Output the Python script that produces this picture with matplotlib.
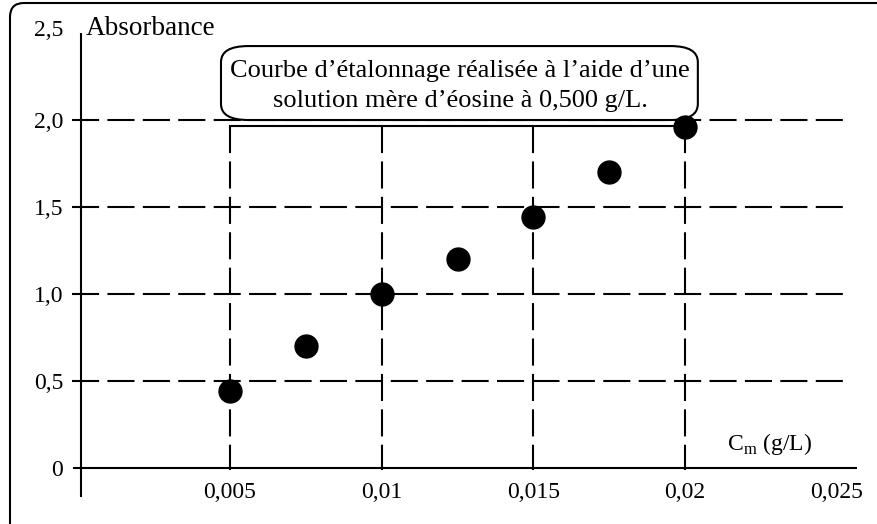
import matplotlib
matplotlib.use("agg")
import matplotlib.pyplot as plt
from matplotlib.patches import FancyBboxPatch
from matplotlib.transforms import IdentityTransform

conc = [0.005, 0.0075, 0.01, 0.0125, 0.015, 0.0175, 0.02]  # g/L
absorb = [0.44, 0.70, 1.00, 1.20, 1.44, 1.70, 1.96]
xticks = [0.005, 0.01, 0.015, 0.02, 0.025]
xlabels = ['0,005', '0,01', '0,015', '0,02', '0,025']
yticks = [0, 0.5, 1.0, 1.5, 2.0, 2.5]
ylabels = ['0', '0,5', '1,0', '1,5', '2,0', '2,5']
vgrid = [0.005, 0.01, 0.015, 0.02]
hgrid = [0.5, 1.0, 1.5, 2.0]

plt.rcParams['font.family'] = ['Liberation Serif', 'DejaVu Serif']
plt.rcParams['mathtext.fontset'] = 'custom'
plt.rcParams['mathtext.rm'] = 'Liberation Serif'
plt.rcParams['lines.scale_dashes'] = False

fs = 17
lw = 1.5
dash = (19.5, 6.0)
x0 = 0.000089  # l'axe vertical est un peu decale du zero

fig = plt.figure(figsize=(8.78, 5.24), dpi=100)
ax = fig.add_axes([0, 0, 1, 1])
ax.set_axis_off()
ax.set_xlim(-0.002581, 0.026358)
ax.set_ylim(-0.3218, 2.6897)

# cadre arrondi autour de la figure
cadre = FancyBboxPatch((10, -14), 884, 535, boxstyle="round,pad=0,rounding_size=14",
                       transform=IdentityTransform(), fill=False, lw=lw, ec='black')
fig.add_artist(cadre)

# quadrillage en tirets
for y in hgrid:
    ax.plot([-0.000208, 0.02527], [y, y], color='black', lw=lw, dashes=dash, zorder=2)
for x in vgrid:
    ax.plot([x, x], [1.965, -0.012], color='black', lw=lw, dashes=dash, zorder=2)
ax.plot([vgrid[0], vgrid[-1]], [1.965, 1.965], color='black', lw=lw, zorder=2)

# axes
ax.plot([x0, x0], [-0.167, 2.5], color='black', lw=lw, solid_capstyle='butt', zorder=3)
ax.plot([-0.000175, 0.02566], [0, 0], color='black', lw=lw, solid_capstyle='butt', zorder=3)

for y, lab in zip(yticks, ylabels):
    yy = y + 0.03 if y == 2.5 else y
    ax.text(-0.000504, yy, lab, ha='right', va='center_baseline', fontsize=fs)
for x, lab in zip(xticks, xlabels):
    ax.text(x, -0.08, lab, ha='center', va='top', fontsize=fs)

ax.text(0.000254, 2.489, 'Absorbance', ha='left', va='baseline', fontsize=19.5)
ax.text(0.02138, 0.103, r'C$_{\mathregular{m}}$ (g/L)', ha='left', va='baseline', fontsize=fs)

# points de mesure
ax.plot(conc, absorb, 'o', color='black', markersize=16.5, zorder=5)

# encadre de titre
boite = FancyBboxPatch((0.004703, 2.0), 0.02042 - 0.004703, 0.425,
                       boxstyle="round,pad=0,rounding_size=0.0009",
                       mutation_aspect=0.425 / 0.0025 * 0.6, fc='white', ec='black', lw=lw, zorder=4)
ax.add_patch(boite)
ax.text(0.01258, 2.247, "Courbe d\u2019étalonnage réalisée à l\u2019aide d\u2019une",
        ha='center', va='baseline', fontsize=19, zorder=6)
ax.text(0.01258, 2.075, "solution mère d\u2019éosine à 0,500 g/L.",
        ha='center', va='baseline', fontsize=19, zorder=6)

plt.savefig('out.png', dpi=100)
plt.close()
